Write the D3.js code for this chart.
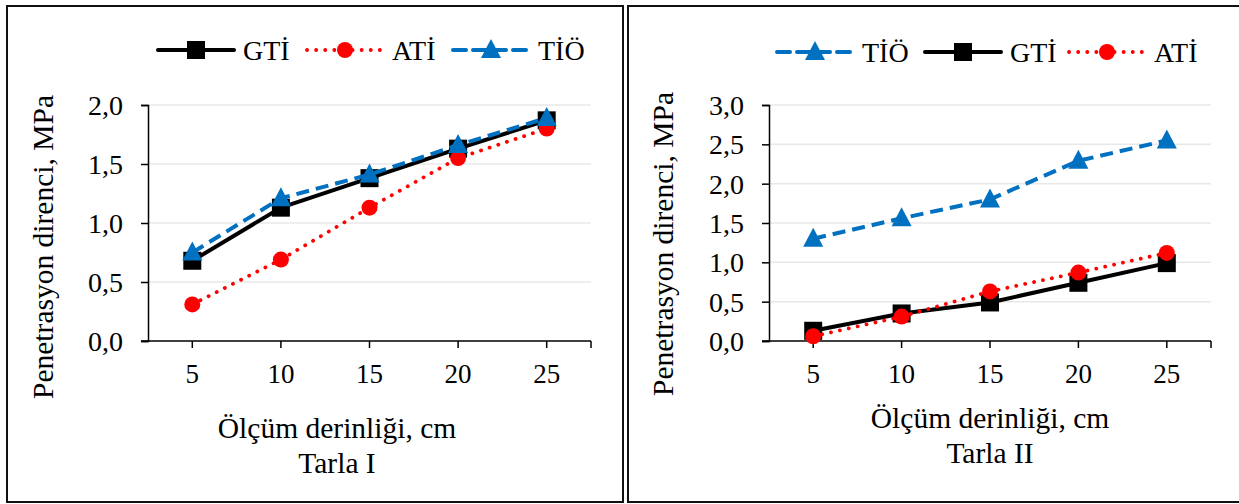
<!DOCTYPE html>
<html>
<head>
<meta charset="utf-8">
<script src="https://cdn.jsdelivr.net/npm/d3@7"></script>
<style>
  body { margin: 0; background: #fff; }
  svg { display: block; font-family: "Liberation Serif", "Times New Roman", serif; }
</style>
</head>
<body>
<svg id="chart" width="1239" height="504"></svg>
<script>
// depth categories (cm)
const depths = [5, 10, 15, 20, 25];

// Tarla I
const gti1 = [0.68, 1.13, 1.38, 1.63, 1.87];
const ati1 = [0.31, 0.69, 1.13, 1.55, 1.80];
const tio1 = [0.75, 1.21, 1.41, 1.66, 1.89];
const yTicks1 = [0, 0.5, 1.0, 1.5, 2.0];

// Tarla II
const gti2 = [0.13, 0.35, 0.49, 0.74, 0.99];
const ati2 = [0.06, 0.31, 0.63, 0.87, 1.12];
const tio2 = [1.30, 1.56, 1.80, 2.29, 2.55];
const yTicks2 = [0, 0.5, 1.0, 1.5, 2.0, 2.5, 3.0];

const svg = d3.select('#chart');

const styleOf = {
  'GTİ': {color: '#000', width: 4, dash: null, cap: 'butt', marker: 'square'},
  'ATİ': {color: '#ff0000', width: 3.8, dash: '0.1 9', cap: 'round', marker: 'circle'},
  'TİÖ': {color: '#0070c0', width: 4, dash: '13 7', cap: 'butt', marker: 'triangle'}
};

const fmt = d => d3.format('.1f')(d).replace('.', ',');

function drawMarker(g, type, x, y, color) {
  if (type === 'square') {
    g.append('rect').attr('x', x - 9).attr('y', y - 9).attr('width', 18).attr('height', 18).attr('fill', color);
  } else if (type === 'circle') {
    g.append('circle').attr('cx', x).attr('cy', y).attr('r', 8).attr('fill', color);
  } else {
    g.append('path').attr('d', `M${x},${y - 11}L${x + 10},${y + 8}L${x - 10},${y + 8}Z`).attr('fill', color);
  }
}

function panel(opt) {
  const g = svg.append('g');

  // frame
  g.append('rect')
    .attr('x', opt.frame[0]).attr('y', 6)
    .attr('width', opt.frame[1] - opt.frame[0]).attr('height', 496)
    .attr('fill', 'none').attr('stroke', '#111').attr('stroke-width', 2);

  const x = d3.scaleBand().domain(depths).range([opt.left, opt.right]);
  const y = d3.scaleLinear().domain([0, opt.yMax]).range([341, 105]);

  // gridlines
  g.selectAll('.grid').data(opt.yTicks.slice(1)).enter().append('line')
    .attr('x1', opt.left).attr('x2', opt.right)
    .attr('y1', d => y(d)).attr('y2', d => y(d))
    .attr('stroke', '#e8e8e8').attr('stroke-width', 1.5);

  // y axis
  const ya = g.append('g').attr('transform', `translate(${opt.left},0)`)
    .call(d3.axisLeft(y).tickValues(opt.yTicks).tickFormat(fmt).tickSize(7).tickPadding(18));
  ya.select('.domain').attr('stroke', '#000').attr('stroke-width', 1.5);
  ya.selectAll('.tick line').attr('stroke', '#000').attr('stroke-width', 1.5);
  ya.selectAll('text').attr('font-size', 28).attr('fill', '#000')
    .attr('font-family', '"Liberation Serif", serif').attr('dy', '0.34em');

  // x axis: ticks at category centres plus the right end
  const xa = g.append('g').attr('transform', 'translate(0,341)');
  xa.append('line').attr('x1', opt.left - 7).attr('x2', opt.right)
    .attr('stroke', '#000').attr('stroke-width', 1.5);
  const xt = depths.map(d => x(d) + x.bandwidth() / 2).concat([opt.right]);
  xa.selectAll('.xt').data(xt).enter().append('line')
    .attr('x1', d => d).attr('x2', d => d).attr('y1', 0).attr('y2', 7)
    .attr('stroke', '#000').attr('stroke-width', 1.5);
  xa.selectAll('.xl').data(depths).enter().append('text')
    .attr('x', d => x(d) + x.bandwidth() / 2).attr('y', 42)
    .attr('text-anchor', 'middle').attr('font-size', 27).text(d => d);

  // series
  const cx = d => x(d) + x.bandwidth() / 2;
  opt.series.forEach(s => {
    const st = styleOf[s.name];
    const line = d3.line().x((d, i) => cx(depths[i])).y(d => y(d));
    g.append('path').datum(s.values).attr('d', line)
      .attr('fill', 'none').attr('stroke', st.color).attr('stroke-width', st.width)
      .attr('stroke-dasharray', st.dash).attr('stroke-linecap', st.cap)
      .attr('stroke-linejoin', 'round');
    s.values.forEach((v, i) => drawMarker(g, st.marker, cx(depths[i]), y(v), st.color));
  });

  // legend
  opt.legend.forEach(l => {
    const st = styleOf[l.name];
    g.append('line').attr('x1', l.x).attr('x2', l.x + 76).attr('y1', opt.legendY).attr('y2', opt.legendY)
      .attr('stroke', st.color).attr('stroke-width', st.width)
      .attr('stroke-dasharray', st.dash).attr('stroke-linecap', 'round');
    drawMarker(g, st.marker, l.x + 38, opt.legendY, st.color);
    g.append('text').attr('x', l.x + 85).attr('y', opt.legendY + 10)
      .attr('font-size', 28).text(l.name);
  });

  // axis titles
  g.append('text')
    .attr('transform', `translate(${opt.yTitleX},${opt.yTitleY}) rotate(-90)`)
    .attr('text-anchor', 'middle').attr('font-size', 29.5).text('Penetrasyon direnci, MPa');
  g.append('text').attr('x', opt.xTitleX).attr('y', opt.xTitleY)
    .attr('text-anchor', 'middle').attr('font-size', 29.5).text('Ölçüm derinliği, cm');
  g.append('text').attr('x', opt.xTitleX).attr('y', opt.xTitleY + 35)
    .attr('text-anchor', 'middle').attr('font-size', 29.5).text(opt.tarla);
}

panel({
  frame: [7, 623], left: 148, right: 591, yMax: 2.0, yTicks: yTicks1,
  series: [{name: 'GTİ', values: gti1}, {name: 'ATİ', values: ati1}, {name: 'TİÖ', values: tio1}],
  legend: [{name: 'GTİ', x: 158}, {name: 'ATİ', x: 307}, {name: 'TİÖ', x: 453}], legendY: 50,
  yTitleX: 53, yTitleY: 247, xTitleX: 337, xTitleY: 438, tarla: 'Tarla I'
});

panel({
  frame: [628, 1245], left: 769, right: 1211, yMax: 3.0, yTicks: yTicks2,
  series: [{name: 'TİÖ', values: tio2}, {name: 'GTİ', values: gti2}, {name: 'ATİ', values: ati2}],
  legend: [{name: 'TİÖ', x: 777}, {name: 'GTİ', x: 925}, {name: 'ATİ', x: 1069}], legendY: 52,
  yTitleX: 673, yTitleY: 244, xTitleX: 990, xTitleY: 428, tarla: 'Tarla II'
});
</script>
</body>
</html>
